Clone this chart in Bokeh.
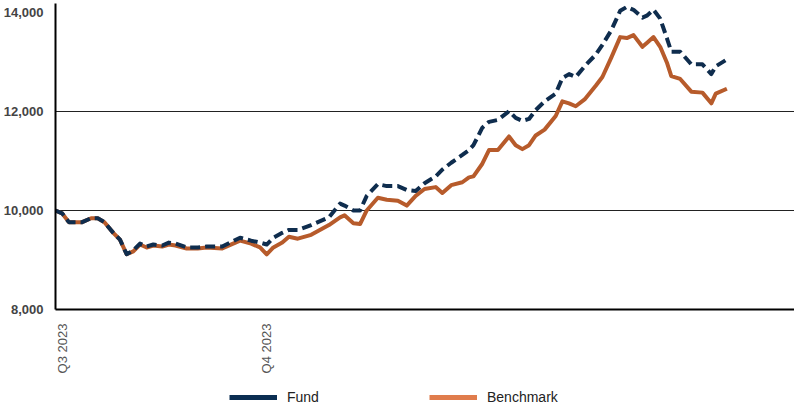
import math
import pandas as pd
from bokeh.plotting import figure
from bokeh.layouts import column
from bokeh.models import (Range1d, FixedTicker, NumeralTickFormatter, CustomJSTickFormatter,
                          Legend, LegendItem, ColumnDataSource)
from bokeh.embed import file_html
from bokeh.resources import INLINE

# ---------------- data ----------------
dates = [
    "2023-06-28", "2023-07-01", "2023-07-04", "2023-07-10", "2023-07-14", "2023-07-17",
    "2023-07-20", "2023-07-24", "2023-07-27", "2023-07-30", "2023-08-02", "2023-08-05",
    "2023-08-08", "2023-08-11", "2023-08-15", "2023-08-18", "2023-08-21", "2023-08-26",
    "2023-08-31", "2023-09-04", "2023-09-11", "2023-09-19", "2023-09-24", "2023-09-28",
    "2023-10-01", "2023-10-04", "2023-10-08", "2023-10-11", "2023-10-15", "2023-10-21",
    "2023-10-29", "2023-11-03", "2023-11-05", "2023-11-09", "2023-11-12", "2023-11-15",
    "2023-11-20", "2023-11-24", "2023-11-29", "2023-12-03", "2023-12-07", "2023-12-11",
    "2023-12-16", "2023-12-19", "2023-12-23", "2023-12-28", "2023-12-31", "2024-01-02",
    "2024-01-06", "2024-01-09", "2024-01-13", "2024-01-18", "2024-01-21", "2024-01-24",
    "2024-01-27", "2024-01-30", "2024-02-03", "2024-02-08", "2024-02-11", "2024-02-14",
    "2024-02-17", "2024-02-21", "2024-02-26", "2024-02-29", "2024-03-04", "2024-03-08",
    "2024-03-11", "2024-03-14", "2024-03-18", "2024-03-20", "2024-03-23", "2024-03-26",
    "2024-03-29", "2024-03-31", "2024-04-04", "2024-04-09", "2024-04-14", "2024-04-18",
    "2024-04-20", "2024-04-25",
]

fund = [
    10000, 9941, 9764, 9764, 9843, 9843,
    9764, 9548, 9410, 9115, 9194, 9331,
    9272, 9312, 9292, 9351, 9331, 9253,
    9253, 9272, 9272, 9449, 9390, 9351,
    9312, 9449, 9548, 9607, 9607, 9705,
    9862, 10138, 10098, 10000, 10000, 10295,
    10531, 10492, 10492, 10413, 10393, 10551,
    10688, 10826, 10964, 11121, 11220, 11318,
    11672, 11790, 11829, 12006, 11869, 11810,
    11849, 12026, 12203, 12360, 12675, 12754,
    12695, 12911, 13147, 13344, 13639, 14032,
    14111, 14052, 13895, 13934, 14052, 13875,
    13482, 13206, 13206, 12951, 12951, 12754,
    12911, 13049,
]

benchmark = [
    10000, 9941, 9764, 9764, 9843, 9843,
    9764, 9548, 9410, 9115, 9174, 9312,
    9253, 9292, 9272, 9312, 9292, 9233,
    9233, 9253, 9233, 9390, 9331, 9253,
    9115, 9253, 9351, 9469, 9430, 9508,
    9705, 9862, 9902, 9744, 9725, 10000,
    10256, 10216, 10197, 10098, 10295, 10433,
    10472, 10354, 10511, 10570, 10669, 10688,
    10944, 11220, 11220, 11495, 11318, 11239,
    11318, 11515, 11633, 11908, 12203, 12164,
    12105, 12242, 12518, 12695, 13088, 13501,
    13482, 13541, 13305, 13383, 13501, 13305,
    12990, 12715, 12656, 12400, 12380, 12164,
    12360, 12459,
]

series_names = ["Fund", "Benchmark"]
quarter_ticks = ["2023-07-01", "2023-10-01"]
quarter_labels = ["Q3 2023", "Q4 2023"]
y_ticks = [8000, 10000, 12000, 14000]
grid_ticks = [10000, 12000]

FONT = "Liberation Sans"

# ---------------- main figure ----------------
x = pd.to_datetime(dates)
src = ColumnDataSource(dict(x=x, fund=fund, bench=benchmark))

p = figure(width=794, height=379, x_axis_type="datetime",
           x_range=Range1d(pd.Timestamp("2023-06-28"), pd.Timestamp("2024-05-25 10:00")),
           y_range=Range1d(8000, 14180),
           output_backend="svg", toolbar_location=None,
           min_border_left=46, min_border_right=0, min_border_top=3, min_border_bottom=70)
p.outline_line_color = None
p.background_fill_color = "white"
p.border_fill_color = "white"

p.xgrid.visible = False
p.ygrid.ticker = FixedTicker(ticks=grid_ticks)
p.ygrid.grid_line_color = "#222222"
p.ygrid.grid_line_width = 1

# y axis
p.yaxis.ticker = FixedTicker(ticks=y_ticks)
p.yaxis.formatter = NumeralTickFormatter(format="0,0")
p.yaxis.major_label_text_font = FONT
p.yaxis.major_label_text_font_size = "13px"
p.yaxis.major_label_text_font_style = "bold"
p.yaxis.major_label_text_color = "#444444"
p.yaxis.major_label_standoff = 6
p.yaxis.axis_line_color = "black"
p.yaxis.axis_line_width = 2
p.yaxis.major_tick_line_color = None
p.yaxis.minor_tick_line_color = None

# x axis
tick_ms = [int(pd.Timestamp(t).value // 10**6) for t in quarter_ticks]
p.xaxis.ticker = FixedTicker(ticks=tick_ms)
p.xaxis.formatter = CustomJSTickFormatter(
    args=dict(labels={str(m): l for m, l in zip(tick_ms, quarter_labels)}),
    code="const k = String(Math.round(tick)); return (k in labels) ? labels[k] : '';")
p.xaxis.major_label_orientation = math.pi / 2
p.xaxis.major_label_text_font = FONT
p.xaxis.major_label_text_font_size = "13px"
p.xaxis.major_label_text_color = "#555555"
p.xaxis.major_label_standoff = 8
p.xaxis.axis_line_color = "black"
p.xaxis.axis_line_width = 2
p.xaxis.major_tick_line_color = None
p.xaxis.minor_tick_line_color = None

# lines
p.line("x", "bench", source=src, line_color="#b75b2b", line_width=4, line_join="round")
p.line("x", "fund", source=src, line_color="#0f2d4e", line_width=4, line_dash="10 5",
       line_join="round")

# ---------------- legend strip ----------------
lg = figure(width=794, height=26, x_range=Range1d(0, 1), y_range=Range1d(0, 1),
            x_axis_location=None, y_axis_location=None,
            output_backend="svg", toolbar_location=None,
            min_border_left=0, min_border_right=0, min_border_top=0, min_border_bottom=0)
lg.grid.visible = False
lg.outline_line_color = None
lg.border_fill_color = "white"
lg.background_fill_color = "white"

# swatch renderers: same series, outside this strip's ranges, so only the legend shows
lf = lg.line("x", "fund", source=src, line_color="#0b2e52", line_width=5)
lb = lg.line("x", "bench", source=src, line_color="#e07c4c", line_width=5)
legend = Legend(items=[LegendItem(label=series_names[0], renderers=[lf]),
                       LegendItem(label=series_names[1], renderers=[lb])],
                orientation="horizontal", location=(174, 0),
                border_line_color=None, background_fill_alpha=0,
                padding=0, margin=0, spacing=12,
                glyph_width=48, glyph_height=14, label_height=14,
                label_standoff=10, label_width=130,
                label_text_font=FONT, label_text_font_size="14px",
                label_text_color="#222222")
lg.add_layout(legend)

layout = column(p, lg, spacing=0)
open("out.html", "w").write(file_html(layout, INLINE))
